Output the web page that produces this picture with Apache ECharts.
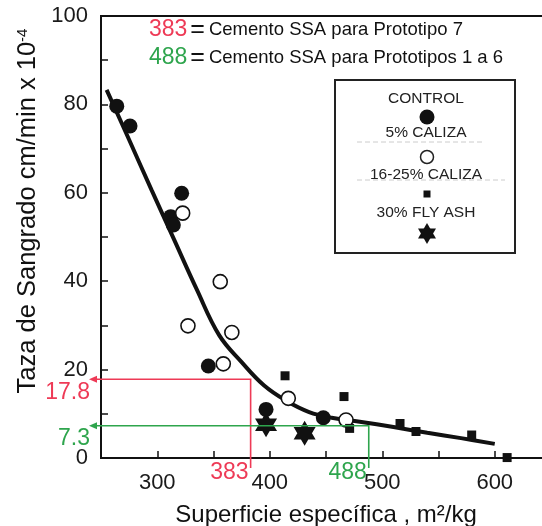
<!DOCTYPE html>
<html>
<head>
<meta charset="utf-8">
<title>Taza de sangrado vs superficie específica</title>
<script src="https://cdn.jsdelivr.net/npm/echarts@6/dist/echarts.min.js"></script>
<style>
  html, body { margin: 0; padding: 0; background: #fff; }
  #main { width: 542px; height: 526px; }
</style>
</head>
<body>
<div id="main"></div>
<script>
// valores (superficie m2/kg, sangrado cm/min x 10^-4)
const xLabels = [300, 400, 500, 600];
const yLabels = [0, 20, 40, 60, 80, 100];

const control = [[264, 79.6], [275.8, 75.1], [321.7, 59.9], [312, 54.6], [314.3, 52.7], [345.4, 20.8], [396.7, 11], [447.6, 9.1]];
const caliza5 = [[322.6, 55.4], [356, 39.9], [327.3, 29.9], [366.3, 28.4], [358.7, 21.3], [416.5, 13.5], [467.8, 8.6]];
const caliza1625 = [[413.6, 18.6], [466, 13.9], [471, 6.7], [515.8, 7.8], [530, 6.0], [579.5, 5.2], [611, 0.1]];
const flyAsh = [[396.7, 7.5], [431, 5.6]];

// curva de ajuste
const curvaX = [255, 275, 295, 315, 335, 355, 375, 395, 415, 435, 455, 480, 510, 540, 570, 600];
const curvaY = [83.3, 72, 60.6, 49.4, 38.2, 27.8, 21.7, 16.4, 12.9, 10.4, 9.1, 8.2, 7.0, 5.7, 4.5, 3.2];

// lineas guia: superficie del cemento -> sangrado
const guiaX = [383, 488];
const guiaY = [17.8, 7.3];
const guiaColor = ['#ee3a56', '#2ea54d'];

const FONT = '"Liberation Sans", Arial, sans-serif';
const star = 'path://M50,0 L93.3,75 L6.7,75 Z M50,100 L6.7,25 L93.3,25 Z';

const chart = echarts.init(document.getElementById('main'));

const option = {
  animation: false,
  grid: {
    left: 101, top: 16, right: -9, bottom: 68,
    outerBoundsMode: 'none', containLabel: false,
    show: true, borderColor: '#111', borderWidth: 2
  },
  xAxis: {
    type: 'value', min: 250, max: 650, interval: 50,
    axisLine: { lineStyle: { color: '#111', width: 2 } },
    axisTick: { inside: true, length: 7, lineStyle: { color: '#111', width: 1.5 } },
    axisLabel: {
      margin: 14, color: '#1a1a1a', fontSize: 22, fontFamily: FONT,
      formatter: v => (xLabels.includes(v) ? String(v) : '')
    },
    splitLine: { show: false },
    name: 'Superficie específica , m²/kg',
    nameLocation: 'middle', nameGap: 45,
    nameTextStyle: { color: '#111', fontSize: 24, fontFamily: FONT }
  },
  yAxis: {
    type: 'value', min: 0, max: 100, interval: 10,
    axisLine: { show: true, lineStyle: { color: '#111', width: 2 } },
    axisTick: { show: true, inside: true, length: 7, lineStyle: { color: '#111', width: 1.5 } },
    axisLabel: {
      margin: 13, color: '#1a1a1a', fontSize: 22, fontFamily: FONT,
      formatter: v => (yLabels.includes(v) ? String(v) : '')
    },
    splitLine: { show: false }
  },
  series: [
    {
      name: 'ajuste', type: 'line', smooth: 0.4, showSymbol: false, z: 1,
      data: curvaX.map((x, i) => [x, curvaY[i]]),
      lineStyle: { color: '#111', width: 4 }
    },
    {
      name: '30% FLY ASH', type: 'scatter', symbol: star, symbolSize: [22, 25], z: 2,
      data: flyAsh, itemStyle: { color: '#111', opacity: 1 }
    },
    {
      name: 'CONTROL', type: 'scatter', symbol: 'circle', symbolSize: 15, z: 3,
      data: control, itemStyle: { color: '#111', opacity: 1 }
    },
    {
      name: '5% CALIZA', type: 'scatter', symbol: 'circle', symbolSize: 14, z: 3,
      data: caliza5, itemStyle: { color: '#fff', borderColor: '#111', borderWidth: 1.6, opacity: 1 }
    },
    {
      name: '16-25% CALIZA', type: 'scatter', symbol: 'rect', symbolSize: 9, z: 3,
      data: caliza1625, itemStyle: { color: '#111', opacity: 1 }
    },
    {
      name: 'guias', type: 'custom', z: 4, silent: true,
      data: guiaX.map((x, i) => [x, guiaY[i]]),
      renderItem: function (params, api) {
        const i = params.dataIndex;
        const x = api.value(0), y = api.value(1);
        const c = guiaColor[i];
        const p = api.coord([x, y]);
        const origin = api.coord([250, 0]);
        const lx = origin[0] - 12;
        const by = origin[1] + 10;
        return {
          type: 'group',
          children: [
            { type: 'polyline', shape: { points: [[lx + 4, p[1]], p, [p[0], by]] },
              style: { stroke: c, lineWidth: 1.6, fill: null } },
            { type: 'polygon', shape: { points: [[lx, p[1]], [lx + 8, p[1] - 3.5], [lx + 8, p[1] + 3.5]] },
              style: { fill: c } },
            { type: 'text', style: { text: String(y), x: lx + 1, y: p[1] + 13, fill: c,
              font: '23px ' + FONT, align: 'right', verticalAlign: 'middle' } },
            { type: 'text', style: { text: String(x), x: p[0] - 2, y: origin[1] + 15, fill: c,
              font: '23px ' + FONT, align: 'right', verticalAlign: 'middle' } }
          ]
        };
      }
    }
  ],
  graphic: [
    // titulo del eje Y
    {
      type: 'text', x: 28, y: 211, rotation: Math.PI / 2,
      style: {
        text: 'Taza de Sangrado cm/min x 10{s|-4}',
        font: '25.5px ' + FONT, fill: '#111', align: 'center', verticalAlign: 'middle',
        rich: { s: { fontSize: 15, fontFamily: FONT, verticalAlign: 'top', lineHeight: 26 } }
      }
    },
    // notas arriba
    {
      type: 'text', x: 149, y: 30,
      style: {
        text: '{r|' + guiaX[0] + '}{e|=}{t|Cemento SSA para Prototipo 7}',
        verticalAlign: 'middle', fill: '#111',
        rich: {
          r: { fontSize: 23, fontFamily: FONT, fill: guiaColor[0] },
          e: { fontSize: 25, fontFamily: FONT, padding: [0, 4, 0, 3] },
          t: { fontSize: 18.5, fontFamily: FONT }
        }
      }
    },
    {
      type: 'text', x: 149, y: 58,
      style: {
        text: '{r|' + guiaX[1] + '}{e|=}{t|Cemento SSA para Prototipos 1 a 6}',
        verticalAlign: 'middle', fill: '#111',
        rich: {
          r: { fontSize: 23, fontFamily: FONT, fill: guiaColor[1] },
          e: { fontSize: 25, fontFamily: FONT, padding: [0, 4, 0, 3] },
          t: { fontSize: 18.5, fontFamily: FONT }
        }
      }
    },
    // leyenda
    {
      type: 'group', x: 335, y: 80,
      children: [
        { type: 'rect', shape: { x: 0, y: 0, width: 180, height: 173 }, style: { fill: '#fff', stroke: '#222', lineWidth: 2 } },
        { type: 'line', shape: { x1: 22, y1: 62, x2: 150, y2: 62 }, style: { stroke: '#ccc', lineWidth: 1, lineDash: [5, 3] } },
        { type: 'line', shape: { x1: 22, y1: 100, x2: 170, y2: 100 }, style: { stroke: '#ccc', lineWidth: 1, lineDash: [5, 3] } },
        { type: 'text', style: { text: 'CONTROL', x: 91, y: 19, font: '15.5px ' + FONT, fill: '#222', align: 'center', verticalAlign: 'middle' } },
        { type: 'circle', shape: { cx: 92, cy: 37, r: 7.5 }, style: { fill: '#111' } },
        { type: 'text', style: { text: '5% CALIZA', x: 91, y: 53, font: '15.5px ' + FONT, fill: '#222', align: 'center', verticalAlign: 'middle' } },
        { type: 'circle', shape: { cx: 92, cy: 77, r: 6.5 }, style: { fill: '#fff', stroke: '#222', lineWidth: 1.5 } },
        { type: 'text', style: { text: '16-25% CALIZA', x: 91, y: 95, font: '15.5px ' + FONT, fill: '#222', align: 'center', verticalAlign: 'middle' } },
        { type: 'rect', shape: { x: 88.5, y: 110.5, width: 7, height: 7 }, style: { fill: '#111' } },
        { type: 'text', style: { text: '30% FLY ASH', x: 91, y: 133, font: '15.5px ' + FONT, fill: '#222', align: 'center', verticalAlign: 'middle' } },
        { type: 'polygon', shape: { points: [[92, 143], [101, 158.5], [83, 158.5]] }, style: { fill: '#111' } },
        { type: 'polygon', shape: { points: [[92, 164], [83, 148.5], [101, 148.5]] }, style: { fill: '#111' } }
      ]
    }
  ]
};

chart.setOption(option);
</script>
</body>
</html>
